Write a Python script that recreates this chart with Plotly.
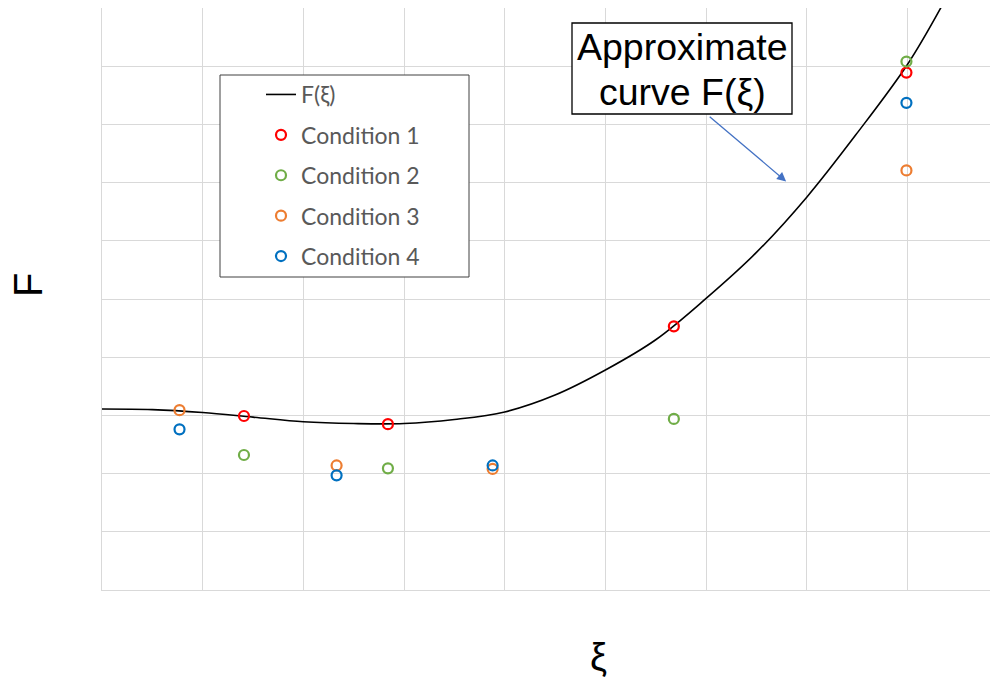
import plotly.graph_objects as go

# Approximate curve F(xi)
curve_x = [0.0, 0.5, 1.0, 1.5, 2.0, 2.5, 3.0, 3.5, 4.0, 4.5, 5.0, 5.5, 6.0, 6.5, 7.0, 7.5, 8.0, 8.33, 8.6]
curve_y = [3.11, 3.10, 3.05, 2.97, 2.89, 2.86, 2.86, 2.93, 3.06, 3.35, 3.78, 4.30, 5.01, 5.80, 6.75, 7.85, 9.03, 10.0, 10.9]

# Conditions
c1_x = [1.41, 2.84, 5.68, 7.99]
c1_y = [2.99, 2.85, 4.53, 8.89]
c2_x = [1.41, 2.84, 5.68, 7.99]
c2_y = [2.32, 2.09, 2.94, 9.08]
c3_x = [0.77, 2.33, 3.88, 7.99]
c3_y = [3.09, 2.14, 2.08, 7.21]
c4_x = [0.77, 2.33, 3.88, 7.99]
c4_y = [2.76, 1.97, 2.14, 8.37]

names = ["Condition 1", "Condition 2", "Condition 3", "Condition 4"]
colors = ["#FF0000", "#70AD47", "#ED7D31", "#0070C0"]
xs = [c1_x, c2_x, c3_x, c4_x]
ys = [c1_y, c2_y, c3_y, c4_y]

fig = go.Figure()
fig.add_trace(go.Scatter(x=curve_x, y=curve_y, mode="lines", name="F(ξ)",
                         line=dict(color="black", width=1.6, shape="spline", smoothing=1),
                         legendgroup="g0"))
for i in range(4):
    fig.add_trace(go.Scatter(x=xs[i], y=ys[i], mode="markers", name=names[i],
                             marker=dict(symbol="circle-open", size=10, color=colors[i],
                                         line=dict(width=2.2, color=colors[i])),
                             legendgroup="g%d" % (i + 1)))

# full-window figure; the page body margin is removed below
W, H = 991, 680
L, T = 102, 8
R = W - 990
B = H - 590
pw, ph = W - L - R, H - T - B

def px(x):
    return (x - L) / pw

def py(y):
    return (H - B - y) / ph

fig.update_layout(
    width=W, height=H, autosize=False,
    margin=dict(l=L, r=R, t=T, b=B, pad=0),
    paper_bgcolor="white", plot_bgcolor="white",
    showlegend=True,
    legend=dict(x=px(261), y=py(73), xanchor="left", yanchor="top",
                bgcolor="rgba(0,0,0,0)", borderwidth=0,
                font=dict(family="Lato", size=23, color="#595959"),
                traceorder="grouped", tracegroupgap=7.5),
    xaxis=dict(range=[0, 8.82], dtick=1, tick0=0, showticklabels=False,
               showgrid=True, gridcolor="#D9D9D9", gridwidth=1,
               zeroline=False, showline=True, linecolor="#D9D9D9", linewidth=1,
               ticks=""),
    yaxis=dict(range=[0, 10], dtick=1, tick0=0, showticklabels=False,
               showgrid=True, gridcolor="#D9D9D9", gridwidth=1,
               zeroline=False, showline=True, linecolor="#D9D9D9", linewidth=1,
               ticks=""),
    shapes=[
        dict(type="rect", xref="paper", yref="paper",
             x0=px(220), x1=px(469), y0=py(277), y1=py(75),
             line=dict(color="#404040", width=1), fillcolor="white", layer="above"),
        dict(type="rect", xref="paper", yref="paper",
             x0=px(572), x1=px(792), y0=py(114), y1=py(23),
             line=dict(color="black", width=1.3), fillcolor="white", layer="above"),
    ],
    annotations=[
        dict(text="Approximate", x=px(682), y=py(47), xref="paper", yref="paper",
             xanchor="center", yanchor="middle", showarrow=False,
             font=dict(family="Liberation Sans", size=37.5, color="black")),
        dict(text="curve F(ξ)", x=px(682), y=py(92), xref="paper", yref="paper",
             xanchor="center", yanchor="middle", showarrow=False,
             font=dict(family="Liberation Sans", size=37.5, color="black")),
        dict(text="", x=6.795, y=7.02, xref="x", yref="y",
             ax=6.021, ay=8.155, axref="x", ayref="y", showarrow=True,
             arrowhead=2, arrowsize=1.4, arrowwidth=1.3, arrowcolor="#4472C4"),
        dict(text="F", x=px(28), y=py(285), xref="paper", yref="paper",
             xanchor="center", yanchor="middle", showarrow=False, textangle=-90,
             font=dict(family="Liberation Sans", size=40, color="black")),
        dict(text="ξ", x=px(598), y=py(657), xref="paper", yref="paper",
             xanchor="center", yanchor="middle", showarrow=False,
             font=dict(family="Liberation Sans", size=38, color="black")),
    ],
)

fig.write_html("out.html",
               config={"displayModeBar": False},
               post_script="document.body.style.margin='0';document.body.style.overflow='hidden';")
